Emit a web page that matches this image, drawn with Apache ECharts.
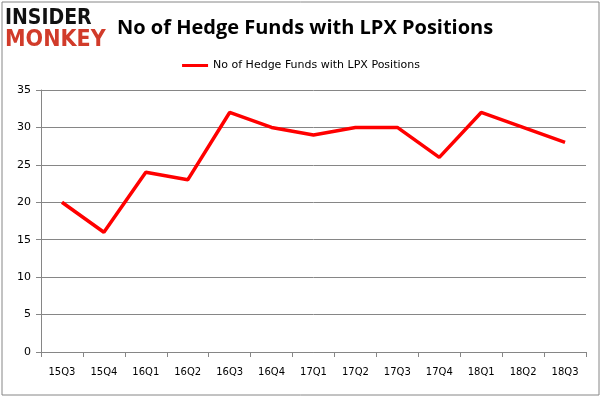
<!DOCTYPE html>
<html><head><meta charset="utf-8">
<script src="https://cdn.jsdelivr.net/npm/echarts@6/dist/echarts.min.js"></script>
<style>html,body{margin:0;padding:0;background:#fff}#c{width:602px;height:398px}</style>
</head><body><div id="c"></div>
<script>
const categories = ['15Q3','15Q4','16Q1','16Q2','16Q3','16Q4','17Q1','17Q2','17Q3','17Q4','18Q1','18Q2','18Q3'];
const hedgeFunds = [20,16,24,23,32,30,29,30,30,26,32,30,28];
const yTicks = {min:0, max:35, interval:5};
const seriesName = 'No of Hedge Funds with LPX Positions';
const titleText = 'No of Hedge Funds with LPX Positions';

const chart = echarts.init(document.getElementById('c'), null, {renderer:'canvas'});
chart.setOption({
  animation:false,
  backgroundColor:'#fff',
  title:{text:titleText, left:112, top:13, textStyle:{fontFamily:'Open Sans', fontWeight:'bold', fontSize:20, color:'#000'}},
  legend:{top:55, left:'center', itemWidth:26, itemHeight:3, icon:'rect', itemGap:5,
    textStyle:{fontFamily:'DejaVu Sans', fontSize:11, color:'#000'}, data:[seriesName]},
  grid:{left:41, right:16, top:90, bottom:46},
  xAxis:{type:'category', data:categories, boundaryGap:true,
    axisLine:{lineStyle:{color:'#868686'}}, axisTick:{show:true, length:5, lineStyle:{color:'#868686'}, alignWithLabel:false},
    axisLabel:{fontFamily:'DejaVu Sans', fontSize:10, color:'#000', margin:15}},
  yAxis:{type:'value', min:yTicks.min, max:yTicks.max, interval:yTicks.interval,
    axisLine:{show:true, lineStyle:{color:'#868686'}}, axisTick:{show:true, length:5, lineStyle:{color:'#868686'}},
    splitLine:{lineStyle:{color:'#868686'}},
    axisLabel:{fontFamily:'DejaVu Sans', fontSize:11, color:'#000', margin:10}},
  series:[{name:seriesName, type:'line', data:hedgeFunds, symbol:'none', lineStyle:{color:'#ff0000', width:3.5}, itemStyle:{color:'#ff0000'}}],
  graphic:[
    {type:'rect', shape:{x:2, y:2, width:597, height:393}, style:{fill:'none', stroke:'#868686', lineWidth:1}, silent:true},
    {type:'text', left:5, top:8, style:{text:'INSIDER', font:'900 21px "DejaVu Sans Condensed", sans-serif', fill:'#111'}},
    {type:'text', left:5, top:29, style:{text:'MONKEY', font:'900 23px "DejaVu Sans Condensed", sans-serif', fill:'#d13b2a'}}
  ]
});
</script></body></html>
